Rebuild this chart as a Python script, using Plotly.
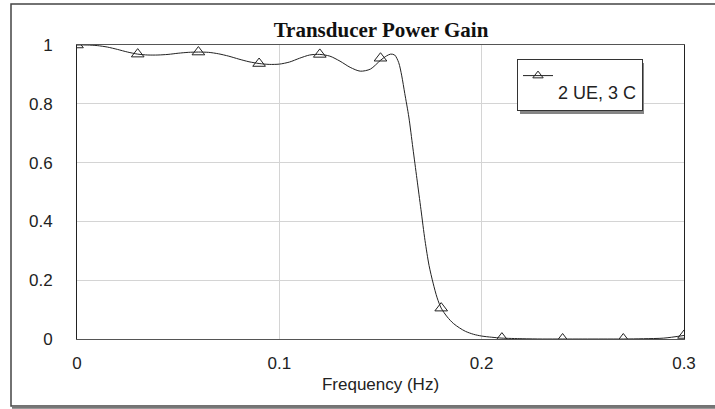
import plotly.graph_objects as go

# ---- data ----
freq = [0.000, 0.005, 0.010, 0.015, 0.020, 0.025, 0.030, 0.035, 0.040, 0.045,
        0.050, 0.055, 0.060, 0.065, 0.070, 0.075, 0.080, 0.085, 0.090, 0.095,
        0.100, 0.105, 0.110, 0.115, 0.120, 0.125, 0.130, 0.135, 0.140, 0.145,
        0.150, 0.153, 0.155, 0.157, 0.159, 0.1605, 0.162, 0.164, 0.166, 0.168,
        0.170, 0.172, 0.174, 0.176, 0.178, 0.180, 0.183, 0.186, 0.189, 0.192,
        0.196, 0.200, 0.205, 0.210, 0.220, 0.230, 0.240, 0.250, 0.260, 0.270,
        0.280, 0.290, 0.300]
gain = [1.000, 1.000, 0.998, 0.993, 0.985, 0.976, 0.969, 0.966, 0.966, 0.968,
        0.972, 0.975, 0.976, 0.975, 0.970, 0.962, 0.952, 0.943, 0.937, 0.934,
        0.935, 0.942, 0.955, 0.966, 0.968, 0.962, 0.945, 0.924, 0.911, 0.918,
        0.948, 0.963, 0.969, 0.966, 0.940, 0.895, 0.835, 0.755, 0.650, 0.545,
        0.440, 0.335, 0.250, 0.190, 0.140, 0.105, 0.075, 0.053, 0.038, 0.026,
        0.016, 0.010, 0.006, 0.003, 0.001, 0.000, 0.000, 0.000, 0.000, 0.000,
        0.001, 0.003, 0.012]

marker_freq = [0.00, 0.03, 0.06, 0.09, 0.12, 0.15, 0.18, 0.21, 0.24, 0.27, 0.30]
marker_gain = [1.000, 0.969, 0.976, 0.937, 0.968, 0.955, 0.105, 0.003, 0.000, 0.000, 0.012]

series_name = "2 UE, 3 C"
x_ticks = [0, 0.1, 0.2, 0.3]
x_tick_text = ["0", "0.1", "0.2", "0.3"]
y_ticks = [0, 0.2, 0.4, 0.6, 0.8, 1]
y_tick_text = ["0", "0.2", "0.4", "0.6", "0.8", "1"]

# ---- layout geometry ----
W, H = 715, 409
L, R, T, B = 77, 31, 45, 70
PW, PH = W - L - R, H - T - B


def px_x(px):
    return (px - L) / PW


def px_y(py):
    return (H - B - py) / PH


LINE_COL = "#222222"
FONT = "Arial, Liberation Sans, sans-serif"

fig = go.Figure()
fig.add_trace(go.Scatter(
    x=freq, y=gain, mode="lines", showlegend=False, hoverinfo="skip",
    line=dict(color=LINE_COL, width=1, shape="spline", smoothing=0.8),
))
fig.add_trace(go.Scatter(
    x=marker_freq, y=marker_gain, mode="markers", showlegend=False,
    marker=dict(symbol="triangle-up-open", size=11, color=LINE_COL,
                line=dict(width=1, color=LINE_COL)),
))
fig.add_trace(go.Scatter(
    x=[None], y=[None], mode="lines+markers",
    name=" <br><span style='font-size:18px'>" + series_name + "</span>",
    line=dict(color=LINE_COL, width=1),
    marker=dict(symbol="triangle-up-open", size=9, color=LINE_COL,
                line=dict(width=1, color=LINE_COL)),
))

shapes = [
    # outer frame
    dict(type="rect", xref="paper", yref="paper",
         x0=px_x(11), x1=px_x(760), y0=px_y(406), y1=px_y(4),
         line=dict(color="#444444", width=1.5), layer="below"),
    dict(type="line", xref="paper", yref="paper",
         x0=px_x(12), x1=px_x(760), y0=px_y(407.5), y1=px_y(407.5),
         line=dict(color="#777777", width=2.5), layer="below"),
    # legend shadow
    dict(type="rect", xref="paper", yref="paper",
         x0=px_x(520), x1=px_x(644), y0=px_y(114), y1=px_y(63),
         fillcolor="#858585", line=dict(width=0), layer="above"),
]

fig.update_layout(
    width=W, height=H,
    margin=dict(l=L, r=R, t=T, b=B, pad=0),
    paper_bgcolor="white", plot_bgcolor="white",
    font=dict(family=FONT, size=17, color=LINE_COL),
    title=dict(text="<b>Transducer Power Gain</b>", x=381 / W, xanchor="center",
               y=1 - 30 / H, yanchor="middle", yref="container",
               font=dict(family="Times New Roman, Liberation Serif, serif",
                         size=21, color="#111111")),
    shapes=shapes,
    legend=dict(x=px_x(517), y=px_y(59), xanchor="left", yanchor="top",
                bgcolor="white", bordercolor="#333333", borderwidth=1,
                valign="top", font=dict(family=FONT, size=14, color=LINE_COL)),
    showlegend=True,
)
fig.update_xaxes(
    range=[0, 0.3], tickvals=x_ticks, ticktext=x_tick_text,
    showgrid=True, gridcolor="#d4d4d4", gridwidth=1, zeroline=False,
    showline=True, linecolor="#555555", linewidth=1, mirror=True,
    ticks="", ticklabelstandoff=9,
    title=dict(text="Frequency (Hz)", standoff=5, font=dict(size=17)),
    tickfont=dict(size=17),
)
fig.update_yaxes(
    range=[0, 1], tickvals=y_ticks, ticktext=y_tick_text,
    showgrid=True, gridcolor="#d4d4d4", gridwidth=1, zeroline=False,
    showline=True, linecolor="#222222", linewidth=1, mirror=True,
    ticks="", ticklabelstandoff=20, tickfont=dict(size=17),
)

fig.write_html("out.html", config={"displayModeBar": False},
               post_script="document.body.style.margin='0';")
